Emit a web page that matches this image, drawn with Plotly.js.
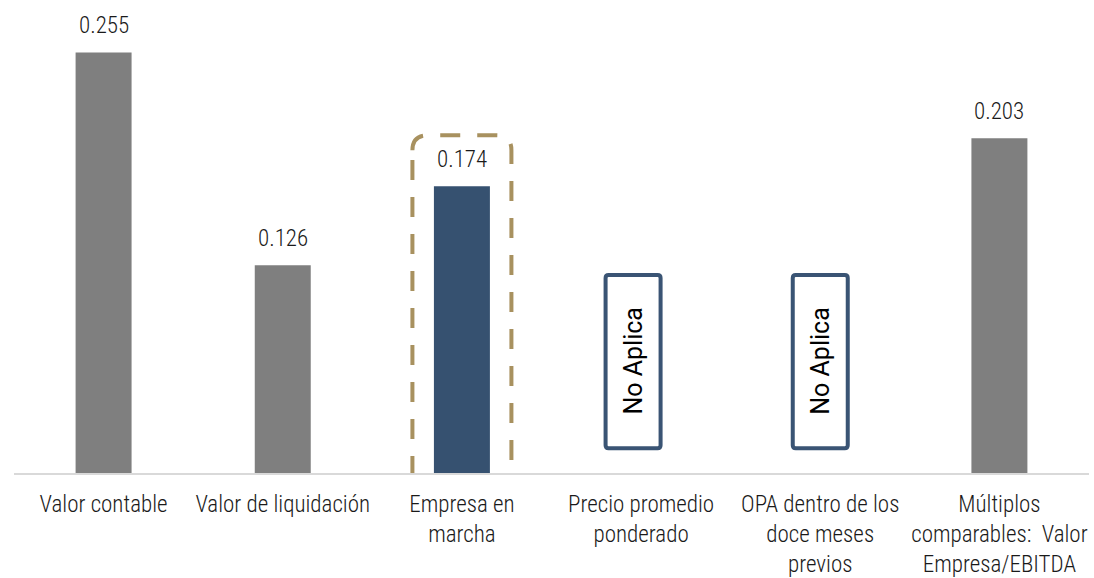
<!DOCTYPE html>
<html>
<head>
<meta charset="utf-8">
<script src="https://cdn.plot.ly/plotly-3.0.1.min.js"></script>
<style>html,body{margin:0;padding:0;background:#fff;}#chart{width:1094px;height:578px;}</style>
</head>
<body>
<div id="chart"></div>
<script>
const categories = [
  "Valor contable",
  "Valor de liquidación",
  "Empresa en<br>marcha",
  "Precio promedio<br>ponderado",
  "OPA dentro de los<br>doce meses<br>previos",
  "Múltiplos<br>comparables:  Valor<br>Empresa/EBITDA"
];
const values = [0.255, 0.126, 0.174, null, null, 0.203];
const barColors = ["#7F7F7F", "#7F7F7F", "#365170", "#7F7F7F", "#7F7F7F", "#7F7F7F"];
const highlightIndex = 2;
const naText = "No Aplica";

const FONT = "'Roboto Condensed', 'DejaVu Sans Condensed', 'Liberation Sans Narrow', Roboto, sans-serif";

const trace = {
  type: "bar",
  x: categories,
  y: values.map(v => v === null ? 0 : v),
  marker: {color: barColors, line: {width: 0}},
  hoverinfo: "skip"
};

const annotations = [];
const shapes = [];
values.forEach((v, i) => {
  if (v !== null) {
    annotations.push({
      x: categories[i], y: v, xref: "x", yref: "y",
      text: v.toFixed(3), showarrow: false,
      yanchor: "middle", yshift: 27,
      font: {family: FONT, size: 23, color: "#1A1A1A", weight: 300}
    });
  } else {
    const off = (i === 3) ? -8 : 0;
    shapes.push({
      type: "path", xref: "x", yref: "y",
      xsizemode: "pixel", ysizemode: "pixel",
      xanchor: i, yanchor: 0,
      path: `M ${off-27.5},195 Q ${off-27.5},198 ${off-24.5},198 L ${off+24.5},198 Q ${off+27.5},198 ${off+27.5},195 L ${off+27.5},27.7 Q ${off+27.5},24.7 ${off+24.5},24.7 L ${off-24.5},24.7 Q ${off-27.5},24.7 ${off-27.5},27.7 Z`,
      line: {color: "#3A5474", width: 4},
      fillcolor: "rgba(0,0,0,0)"
    });
    annotations.push({
      x: categories[i], y: 0, xref: "x", yref: "y",
      text: naText, showarrow: false, textangle: -90,
      yanchor: "middle", xanchor: "center", yshift: 111.5, xshift: off,
      font: {family: "Roboto, 'Liberation Sans', sans-serif", size: 25, color: "#000000"}
    });
  }
});

shapes.push({
  type: "path", xref: "x", yref: "y",
  xsizemode: "pixel", ysizemode: "pixel",
  xanchor: highlightIndex, yanchor: 0,
  path: "M -49.5,322.7 Q -49.5,337.7 -34.5,337.7 L 34.5,337.7 Q 49.5,337.7 49.5,322.7 L 49.5,-0.3 Q 49.5,-15.3 34.5,-15.3 L -34.5,-15.3 Q -49.5,-15.3 -49.5,-0.3 Z",
  line: {color: "#A8915F", width: 4, dash: "20px,17px"},
  fillcolor: "rgba(0,0,0,0)"
});

const layout = {
  width: 1094, height: 578,
  margin: {l: 14, r: 5, t: 3, b: 105, pad: 0},
  paper_bgcolor: "#ffffff", plot_bgcolor: "#ffffff",
  showlegend: false,
  bargap: 0.6875,
  xaxis: {
    type: "category",
    showline: true, linecolor: "#D9D9D9", linewidth: 1.5,
    showgrid: false, zeroline: false, ticks: "",
    ticklabelstandoff: 10,
    tickfont: {family: FONT, size: 23, color: "#1A1A1A", weight: 300},
    tickangle: 0,
    fixedrange: true
  },
  yaxis: {
    visible: false, range: [0, 0.2851], fixedrange: true
  },
  annotations: annotations,
  shapes: shapes
};

Plotly.newPlot("chart", [trace], layout, {displayModeBar: false, staticPlot: true});
</script>
</body>
</html>
